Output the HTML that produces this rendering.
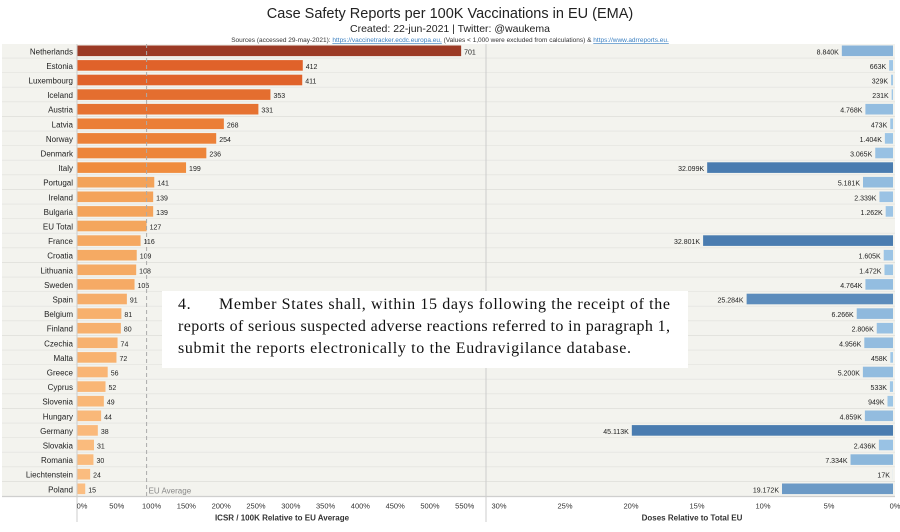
<!DOCTYPE html>
<html><head><meta charset="utf-8"><style>
body{margin:0;background:#fff;width:900px;height:527px;overflow:hidden;font-family:"Liberation Sans",Arial,sans-serif}
svg text{font-family:"Liberation Sans",Arial,sans-serif}
</style></head><body>
<svg id="c" width="900" height="527" xmlns="http://www.w3.org/2000/svg">
<rect x="0" y="0" width="900" height="527" fill="#fff"/>
<text x="450" y="18" text-anchor="middle" font-size="14.5" fill="#222">Case Safety Reports per 100K Vaccinations in EU (EMA)</text>
<text x="450" y="32" text-anchor="middle" font-size="10.5" fill="#222">Created: 22-jun-2021 | Twitter: @waukema</text>
<text x="450" y="42" text-anchor="middle" font-size="6.5" fill="#333">Sources (accessed 29-may-2021): <tspan fill="#3a7fc0" text-decoration="underline">https://vaccinetracker.ecdc.europa.eu,</tspan> (Values &lt; 1,000 were excluded from calculations) &amp; <tspan fill="#3a7fc0" text-decoration="underline">https://www.adrreports.eu.</tspan></text>
<g id="rows"></g>
<g id="left"></g>
<g id="right"></g>
<g id="axes"></g>
<rect x="162" y="291" width="526" height="77" fill="#fff"/>
<text font-size="16" fill="#111" style="font-family:'Liberation Serif',serif">
<tspan x="178" y="309" textLength="492" lengthAdjust="spacing">4.&#160;&#160;&#160;&#160;&#160;&#160;Member States shall, within 15 days following the receipt of the</tspan>
<tspan x="178" y="331" textLength="492" lengthAdjust="spacing">reports of serious suspected adverse reactions referred to in paragraph 1,</tspan>
<tspan x="178" y="353" textLength="453" lengthAdjust="spacing">submit the reports electronically to the Eudravigilance database.</tspan>
</text>
</svg>
<script>
const countries=["Netherlands","Estonia","Luxembourg","Iceland","Austria","Latvia","Norway","Denmark","Italy","Portugal","Ireland","Bulgaria","EU Total","France","Croatia","Lithuania","Sweden","Spain","Belgium","Finland","Czechia","Malta","Greece","Cyprus","Slovenia","Hungary","Germany","Slovakia","Romania","Liechtenstein","Poland"];
const icsr=[701,412,411,353,331,268,254,236,199,141,139,139,127,116,109,108,105,91,81,80,74,72,56,52,49,44,38,31,30,24,15];
const doses=[8840,663,329,231,4768,473,1404,3065,32099,5181,2339,1262,null,32801,1605,1472,4764,25284,6266,2806,4956,458,5200,533,949,4859,45113,2436,7334,17,19172];
const doseLabels=["8.840K","663K","329K","231K","4.768K","473K","1.404K","3.065K","32.099K","5.181K","2.339K","1.262K","","32.801K","1.605K","1.472K","4.764K","25.284K","6.266K","2.806K","4.956K","458K","5.200K","533K","949K","4.859K","45.113K","2.436K","7.334K","17K","19.172K"];
const leftTicks=["0%","50%","100%","150%","200%","250%","300%","350%","400%","450%","500%","550%"];
const rightTicks=["30%","25%","20%","15%","10%","5%","0%"];
const euAvg=127, totalDoses=228000;
const NS="http://www.w3.org/2000/svg";
function el(t,a,p){const e=document.createElementNS(NS,t);for(const k in a)e.setAttribute(k,a[k]);document.getElementById(p).appendChild(e);return e;}
const y0=44, rowH=14.6;
const xL=v=>77+v*0.548;
const xR=p=>893-p*13.2;
function mix(a,b,t){return "rgb("+a.map((c,i)=>Math.round(c+(b[i]-c)*t)).join(",")+")";}
function leftColor(v){
  if(v>=412) return mix([224,98,42],[155,58,37],(v-412)/289);
  if(v>=199) return mix([240,140,61],[224,98,42],(v-199)/213);
  return mix([251,190,130],[240,150,70],Math.min(1,(v-15)/184));
}
function rightColor(v){return mix([160,200,232],[74,124,176],Math.min(1,v/32000));}
for(let i=0;i<countries.length;i++){
  const y=y0+i*rowH;
  const r=el('rect',{x:2,y:y,width:893,height:rowH-1,fill:'#f3f3ee'},'rows');
  
  
  const l=el('line',{x1:2,x2:895,y1:y+rowH-0.5,y2:y+rowH-0.5,stroke:'#e3e3de','stroke-width':1},'rows');
  
  
}
countries.forEach((c,i)=>{
  const y=y0+i*rowH, cy=y+rowH/2;
  const t=el('text',{x:73,y:cy+3,'text-anchor':'end','font-size':8,fill:'#222'},'left');
  t.textContent=c;
  
  
  const v=icsr[i];
  const b=el('rect',{x:77,y:y+1.5,width:xL(v)-77,height:rowH-4,fill:leftColor(v)},'left');
  
  
  const vt=el('text',{x:xL(v)+3,y:cy+3,'font-size':7,fill:'#222'},'left');
  vt.textContent=v;
  
  
  const d=doses[i];
  if(d!==null){
    const p=d/totalDoses*100;
    const rb=el('rect',{x:xR(p),y:y+1.5,width:893-xR(p),height:rowH-4,fill:rightColor(d)},'right');
    
    
    const rt=el('text',{x:xR(p)-3,y:cy+3,'text-anchor':'end','font-size':7,fill:'#222'},'right');
    rt.textContent=doseLabels[i];
    
    
  }
});
const yb=y0+countries.length*rowH;
const ea=el('line',{x1:xL(euAvg),x2:xL(euAvg),y1:y0,y2:yb,stroke:'#aaa','stroke-dasharray':'4,3','stroke-width':1},'axes');


const et=el('text',{x:xL(euAvg)+2,y:yb-3,'font-size':8,fill:'#888'},'axes');
et.textContent='EU Average';


[[77,y0,77,522],[486,y0,486,522],[2,yb,895,yb]].forEach(a=>{
  const l=el('line',{x1:a[0],y1:a[1],x2:a[2],y2:a[3],stroke:'#ccc','stroke-width':1},'axes');
  
  
});
leftTicks.forEach((t,i)=>{
  const tx=el('text',{x:xL(euAvg*i*0.5)+5,y:yb+12,'text-anchor':'middle','font-size':7.5,fill:'#333'},'axes');
  tx.textContent=t;
  
  
});
rightTicks.forEach((t,i)=>{
  const tx=el('text',{x:xR(30-i*5)+2,y:yb+12,'text-anchor':'middle','font-size':7.5,fill:'#333'},'axes');
  tx.textContent=t;
  
  
});
const a1=el('text',{x:282,y:yb+24,'text-anchor':'middle','font-size':8,'font-weight':'bold',fill:'#333'},'axes');
a1.textContent='ICSR / 100K Relative to EU Average';


const a2=el('text',{x:692,y:yb+24,'text-anchor':'middle','font-size':8,'font-weight':'bold',fill:'#333'},'axes');
a2.textContent='Doses Relative to Total EU';


</script>
</body></html>
